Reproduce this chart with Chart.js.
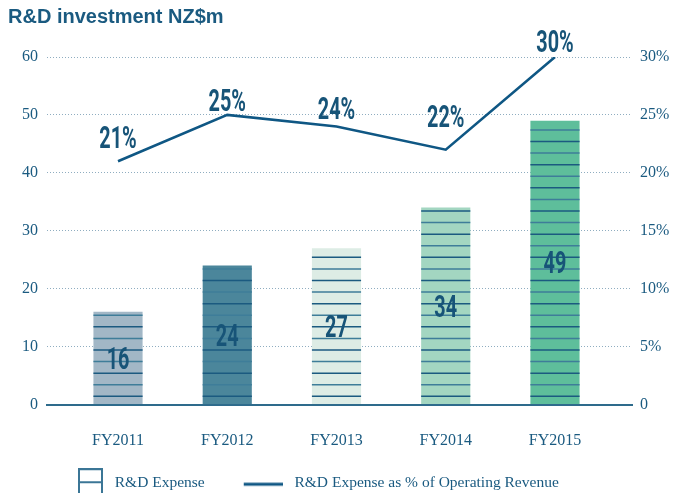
<!DOCTYPE html>
<html>
<head>
<meta charset="utf-8">
<script src="https://cdn.jsdelivr.net/npm/chart.js@4/dist/chart.umd.min.js"></script>
<style>
  html, body { margin: 0; padding: 0; background: #fff; }
  #wrap { width: 675px; height: 493px; }
</style>
</head>
<body>
<div id="wrap"><canvas id="rdChart"></canvas></div>
<script>
// values
const categories = ['FY2011', 'FY2012', 'FY2013', 'FY2014', 'FY2015'];
const expense = [16, 24, 27, 34, 49];          // NZ$m
const pctOfRevenue = [21, 25, 24, 22, 30];     // % of operating revenue
const expenseTicks = [0, 10, 20, 30, 40, 50, 60];
const pctTicks = [0, 5, 10, 15, 20, 25, 30];

// styling
const barColors = ['#a2b7c6', '#4b869b', '#ddece5', '#a3d6c1', '#5ebe9b'];
const navy = '#1a5a80';
const lineNavy = '#0f5784';
const pctLift = [13, 4, 8, 23, 5];   // how far each % label sits above its point
const serif = "'Liberation Serif', 'Times New Roman', serif";

// draw text squeezed horizontally to fake a condensed face
function drawNarrow(ctx, text, x, y) {
  ctx.save();
  ctx.translate(x, y);
  ctx.scale(0.64, 1);
  ctx.fillText(text, 0, 0);
  ctx.restore();
}

// horizontal rules across each bar
const stripes = {
  id: 'stripes',
  afterDatasetsDraw(chart) {
    const ctx = chart.ctx;
    const y = chart.scales.y;
    const step = y.getPixelForValue(0) - y.getPixelForValue(2);
    ctx.save();
    ctx.lineWidth = 1.5;
    chart.getDatasetMeta(0).data.forEach(bar => {
      const l = bar.x - bar.width / 2, r = bar.x + bar.width / 2;
      let k = 0;
      for (let py = bar.base - step * 0.66; py > bar.y + 2; py -= step, k++) {
        ctx.strokeStyle = k % 2 ? '#3e7d99' : '#1b5a80';
        ctx.beginPath();
        ctx.moveTo(l, py);
        ctx.lineTo(r, py);
        ctx.stroke();
      }
    });
    ctx.restore();
  }
};

const valueLabels = {
  id: 'valueLabels',
  afterDatasetsDraw(chart) {
    const ctx = chart.ctx;
    ctx.save();
    ctx.fillStyle = '#175478';
    ctx.textAlign = 'center';
    ctx.textBaseline = 'alphabetic';
    ctx.font = 'bold 31px Roboto';
    chart.getDatasetMeta(0).data.forEach((bar, i) => {
      drawNarrow(ctx, String(expense[i]), bar.x, (bar.y + bar.base) / 2 + 11);
    });
    chart.getDatasetMeta(1).data.forEach((pt, i) => {
      drawNarrow(ctx, pctOfRevenue[i] + '%', pt.x, pt.y - pctLift[i]);
    });
    ctx.restore();
  }
};

// shift legend so it sits like the original
const legendNudge = {
  id: 'legendNudge',
  afterLayout(chart) {
    const lg = chart.legend;
    lg.left += 17;
    lg.top += 8;
    lg.bottom += 8;
  }
};

function legendIcon(kind) {
  const c = document.createElement('canvas');
  c.width = 64;
  c.height = 30;
  const g = c.getContext('2d');
  if (kind === 'box') {
    g.strokeStyle = '#3b7696';
    g.lineWidth = 2;
    g.strokeRect(40, 1, 23, 27);
    g.beginPath();
    g.moveTo(40, 14);
    g.lineTo(63, 14);
    g.stroke();
  } else {
    g.strokeStyle = lineNavy;
    g.lineWidth = 3;
    g.beginPath();
    g.moveTo(25, 16);
    g.lineTo(64, 16);
    g.stroke();
  }
  return c;
}
const boxIcon = legendIcon('box');
const lineIcon = legendIcon('line');

const ctx = document.getElementById('rdChart').getContext('2d');
new Chart(ctx, {
  type: 'bar',
  data: {
    datasets: [{
      label: 'R&D Expense',
      data: expense.map((v, i) => ({ x: i, y: v })),
      backgroundColor: barColors,
      borderWidth: 0,
      barPercentage: 0.45,
      categoryPercentage: 1,
      yAxisID: 'y',
      pointStyle: boxIcon
    }, {
      type: 'line',
      label: 'R&D Expense as % of Operating Revenue',
      data: pctOfRevenue.map((v, i) => ({ x: i, y: v })),
      borderColor: lineNavy,
      backgroundColor: lineNavy,
      borderWidth: 2.6,
      pointRadius: 0,
      tension: 0,
      yAxisID: 'y1',
      pointStyle: lineIcon
    }]
  },
  options: {
    responsive: true,
    maintainAspectRatio: false,
    animation: false,
    layout: { padding: { left: 8, right: 0, top: 0, bottom: 0 } },
    plugins: {
      title: {
        display: true,
        text: 'R&D investment NZ$m',
        align: 'start',
        color: navy,
        font: { family: "'Liberation Sans', Arial, sans-serif", weight: 'bold', size: 20 },
        padding: { top: 5, bottom: 28 }
      },
      legend: {
        position: 'bottom',
        align: 'start',
        labels: {
          usePointStyle: true,
          pointStyleWidth: 72,
          padding: 10,
          color: navy,
          font: { family: serif, size: 15.5 }
        }
      },
      tooltip: { enabled: false }
    },
    scales: {
      x: {
        type: 'linear',
        offset: false,
        min: -0.65,
        max: 4.705,
        afterBuildTicks: s => { s.ticks = categories.map((c, i) => ({ value: i })); },
        afterFit: s => { s.height = 53; },
        ticks: {
          callback: v => categories[v],
          color: navy,
          padding: 19,
          font: { family: serif, size: 16 }
        },
        grid: { display: false },
        border: { display: true, color: '#2e6b8c', width: 2 }
      },
      y: {
        position: 'left',
        min: 0,
        max: 60,
        afterBuildTicks: s => { s.ticks = expenseTicks.map(v => ({ value: v })); },
        afterFit: s => { s.width = 39; },
        ticks: {
          color: navy,
          padding: 9,
          font: { family: serif, size: 16 }
        },
        grid: {
          drawTicks: false,
          color: ctx => ctx.tick && ctx.tick.value === 0 ? 'rgba(0,0,0,0)' : '#8fadc0',
          lineWidth: 1
        },
        border: { display: false, dash: [1, 2] }
      },
      y1: {
        position: 'right',
        min: 0,
        max: 30,
        afterBuildTicks: s => { s.ticks = pctTicks.map(v => ({ value: v })); },
        afterFit: s => { s.width = 43; },
        ticks: {
          color: navy,
          padding: 8,
          font: { family: serif, size: 16 },
          callback: v => v === 0 ? '0' : v + '%'
        },
        grid: { display: false, drawTicks: false },
        border: { display: false }
      }
    }
  },
  plugins: [stripes, valueLabels, legendNudge]
});
</script>
</body>
</html>
